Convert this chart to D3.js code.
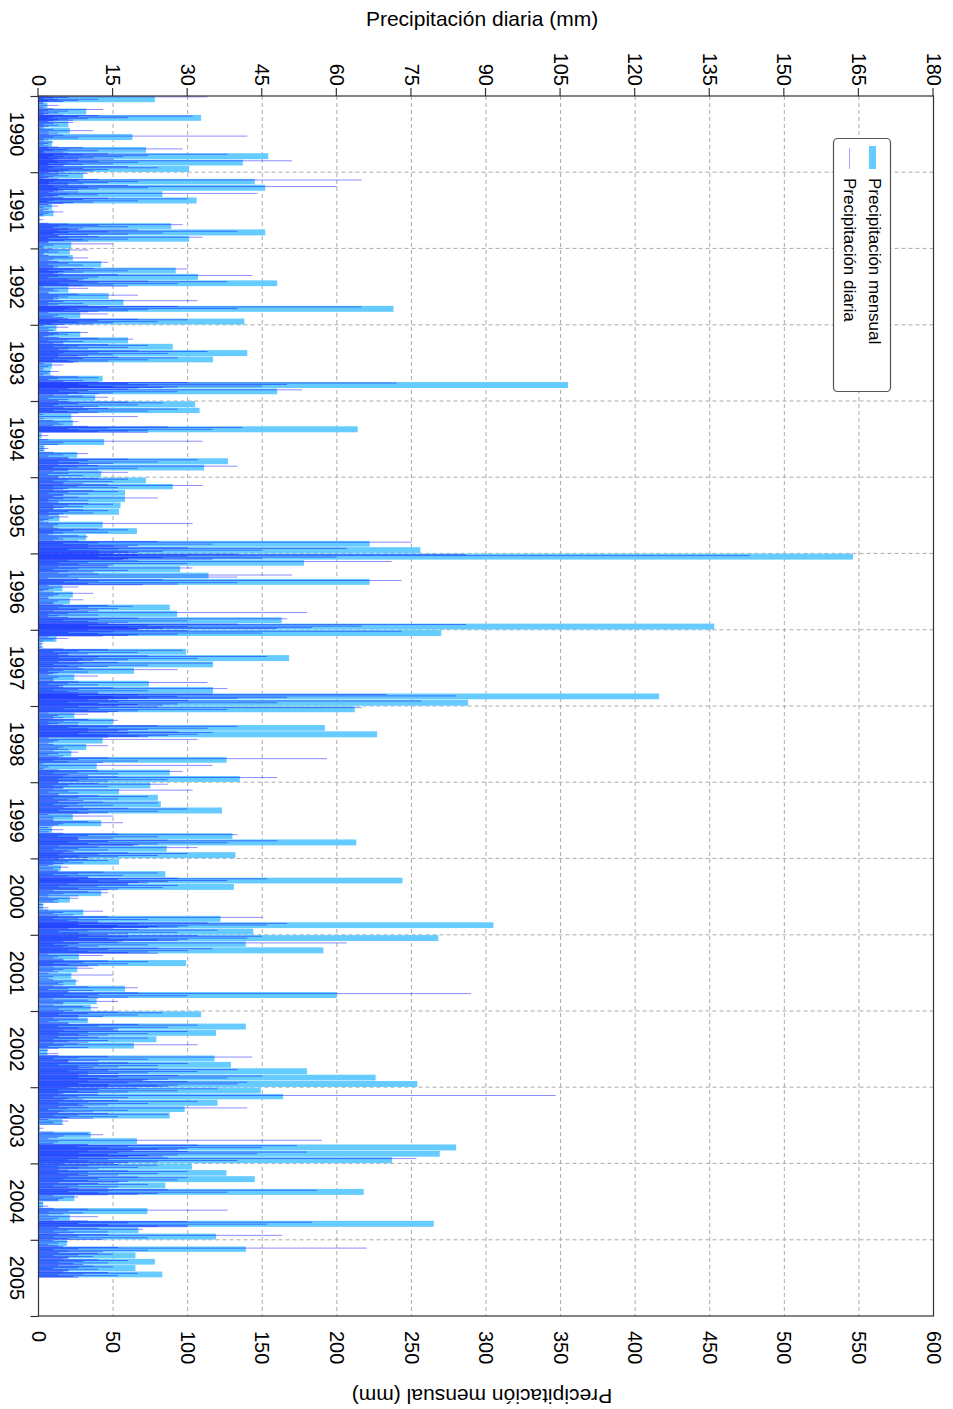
<!DOCTYPE html>
<html>
<head>
<meta charset="utf-8">
<script src="https://cdn.jsdelivr.net/npm/d3@7"></script>
<style>
  body { margin: 0; background: #fff; }
  text { font-family: "Liberation Sans", Arial, sans-serif; fill: #000; }
</style>
</head>
<body>
<script>
// tick labels
const yearLabels = ["1990","1991","1992","1993","1994","1995","1996","1997","1998","1999","2000","2001","2002","2003","2004","2005"];
const dailyTicks = [0,15,30,45,60,75,90,105,120,135,150,165,180];
const monthlyTicks = [0,50,100,150,200,250,300,350,400,450,500,550,600];

// monthly totals (mm), Jan..Dec
const mensual1990 = [78,6,32,109,20,21,63,9,72,154,137,101];
const mensual1991 = [30,145,152,83,106,9,10,1,89,152,101,22];
const mensual1992 = [21,23,42,92,107,160,20,47,57,238,28,138];
const mensual1993 = [12,28,60,90,140,117,9,8,43,355,160,38];
const mensual1994 = [105,108,22,23,214,2,44,4,26,127,111,42];
const mensual1995 = [72,90,58,58,55,54,14,43,66,32,222,256];
const mensual1996 = [546,178,95,114,222,16,23,21,88,93,163,453];
const mensual1997 = [270,12,2,99,168,117,64,24,74,117,416,288];
const mensual1998 = [212,24,50,192,227,43,32,22,126,39,88,135];
const mensual1999 = [75,54,80,82,123,23,42,9,130,213,86,132];
const mensual2000 = [54,15,85,244,131,42,21,3,30,122,305,144];
const mensual2001 = [268,139,191,27,99,26,22,25,58,200,39,35];
const mensual2002 = [109,33,139,119,79,64,6,118,129,180,226,254];
const mensual2003 = [149,164,120,98,88,16,1,35,66,280,269,237];
const mensual2004 = [103,126,145,85,218,24,3,73,21,265,67,119];
const mensual2005 = [19,139,65,78,65,83];

// daily amounts of the rainy days in each month (mm)
const diaria1990 = ["2 34 6 3 1 12 4 8 2 5 1","1 4 1","3 13 2 6 1 4 2 1","5 12 31 8 3 18 2 10 6 4 7 3","2 7 3 1 4 2 1","1 3 11 2 4","2 5 42 3 8 1 2","1 3 2 1 2","4 9 2 29 6 3 12 1 5 1","6 14 38 9 3 22 5 17 2 11 8 4 15","3 8 51 12 4 20 6 2 15 9 5 2","5 18 3 24 9 2 14 6 11 4 5"];
const diaria1991 = ["2 10 4 1 6 3 2 1","4 12 65 8 3 20 2 14 6 9 2","6 18 3 60 10 22 4 12 8 5 4","3 8 2 44 6 12 4 3 1","5 14 30 9 3 20 2 11 7 5","2 4 1 2","1 5 2 1 1","1","2 6 29 12 4 18 3 9 6","8 20 4 40 14 6 25 3 18 10 4","4 12 33 6 2 18 9 5 10 2","2 15 3 1 1"];
const diaria1992 = ["3 10 2 4 1 1","2 6 10 3 2","4 14 6 2 9 3 4","3 11 30 7 2 18 5 9 4 3","5 16 43 4 12 2 10 6 9","8 22 38 12 4 28 6 15 9 18","1 10 3 4 2","2 8 20 4 6 3 4","3 32 5 2 9 4 2","10 28 65 14 6 40 8 22 5 18 12 10","2 14 4 3 5","6 20 30 12 4 24 8 15 3 11 5"];
const diaria1993 = ["1 6 2 3","2 10 4 6 3 2 1","4 12 19 6 2 9 5 3","5 14 22 8 3 18 6 10 4","6 20 34 12 5 26 4 15 10 8","4 16 28 9 3 22 6 14 8 7","1 5 2 1","1 4 2 1","3 8 12 4 2 9 5","12 30 72 18 8 50 22 10 45 15 28 25 20","6 18 53 10 4 28 8 15 12 6","3 9 14 2 6 4"];
const diaria1994 = ["6 18 25 8 4 20 3 12 9","5 14 28 10 3 22 6 12 8","1 20 1","3 8 4 5 3","10 26 41 14 6 35 8 22 18 12 22","2","2 33 5 4","1 2 1","3 10 5 2 6","6 18 32 10 4 24 8 15 10","4 12 40 8 3 20 6 12 6","3 18 6 2 9 4"];
const diaria1995 = ["4 12 18 6 3 15 5 9","5 14 33 8 3 16 6 5","3 11 16 6 2 10 5 5","3 8 24 5 2 10 4 2","4 10 15 6 3 9 5 3","3 9 14 6 2 11 5 4","2 6 3 2 1","2 31 4 3 3","4 12 18 7 3 14 5 3","2 8 10 4 5 3","8 24 75 12 5 35 10 20 15 18","10 30 62 16 6 45 12 25 18 20 12"];
const diaria1996 = ["15 40 86 20 143 30 12 60 25 45 18 35 17","6 20 71 10 4 30 8 15 14","4 14 31 8 3 18 6 11","4 12 51 6 40 2","8 25 73 12 5 40 10 28 21","2 8 3 2 1","3 11 4 3 2","2 9 4 3 3","5 14 19 10 4 16 8 12","3 10 54 6 2 12 4 2","6 20 50 12 5 30 10 18 12","14 40 86 22 10 65 30 18 55 25 48 20 20"];
const diaria1997 = ["10 30 73 15 6 45 12 28 20 18 13","2 6 3 1","1 1","5 14 29 8 3 20 6 10 4","6 22 46 12 4 32 9 18 11 8","4 16 35 9 3 22 6 14 8","3 9 28 5 2 10 4 3","2 12 4 3 3","3 8 34 6 2 12 5 4","5 15 38 8 3 22 6 12 8","12 35 70 20 8 84 28 15 50 22 40 18 14","10 30 77 16 6 48 12 28 20 25 16"];
const diaria1998 = ["8 24 65 12 5 38 10 20 16 14","2 10 4 3 5","3 10 16 5 2 8 4 2","8 24 40 14 6 34 10 22 18 16","10 28 35 18 8 32 14 26 20 22 14","2 32 4 3 2","3 14 5 4 6","3 8 4 2 5","4 14 58 8 3 20 6 13","1 35 2 1","4 12 29 8 3 16 6 10","5 16 48 10 4 26 8 14 4"];
const diaria1999 = ["4 12 26 6 3 14 5 5","3 31 6 2 8 4","4 12 22 8 3 16 6 9","4 13 24 8 3 15 6 9","5 18 30 10 4 24 8 14 10","2 15 3 3","3 10 17 5 4 3","2 5 2","5 16 40 10 4 24 8 15 8","8 26 48 14 6 38 10 24 20 19","4 12 32 8 3 14 6 7","5 18 30 12 4 24 8 16 10 5"];
const diaria2000 = ["4 10 14 6 3 9 5 3","2 6 3 4","4 13 24 8 3 17 6 10","10 28 46 16 8 38 12 26 20 22 18","6 18 28 12 4 25 8 16 14","3 10 14 5 2 8","2 8 4 3 4","1 2","2 13 5 3 7","4 14 45 8 3 22 6 12 8","12 34 50 20 8 46 16 30 24 28 22 15","6 20 36 10 4 28 8 18 14"];
const diaria2001 = ["10 32 45 18 8 42 14 30 24 28 17","5 16 62 8 3 22 6 12 5","8 24 35 14 6 30 10 22 18 24","2 13 4 3 5","5 14 22 9 3 18 6 12 10","3 11 5 3 4","2 15 3 2","3 8 5 4 5","3 10 20 6 2 11 6","6 20 87 12 5 30 10 18 12","3 10 16 5 5","3 9 12 4 7"];
const diaria2002 = ["5 16 25 10 4 20 8 13 8","3 8 10 4 2 6","6 20 32 12 4 26 8 16 15","5 16 30 10 4 22 8 14 10","4 12 22 8 3 14 6 10","3 8 32 5 2 10 4","2 4","4 14 43 8 3 22 6 12 6","6 18 30 12 4 24 8 16 11","8 24 40 14 6 32 10 22 16 8","10 28 45 16 8 38 12 26 22 21","10 30 42 18 8 40 14 28 24 26 14"];
const diaria2003 = ["6 20 36 12 4 28 8 18 12 5","4 12 104 8 3 18 6 9","5 16 32 10 4 22 8 14 9","4 10 42 6 2 18 5 11","4 14 26 8 3 16 6 11","2 6 3 5","1","3 10 13 5 4","2 57 4 3","10 32 52 18 8 45 14 30 24 28 19","10 30 54 16 8 44 14 28 22 25 18","8 26 76 14 6 40 10 24 18 15"];
const diaria2004 = ["5 16 24 10 4 20 8 12 4","6 18 30 10 4 24 8 16 10","6 20 30 12 5 28 10 18 16","4 12 22 8 3 16 6 14","8 26 56 14 6 38 12 24 20 14","3 8 5 4 4","1 2","3 10 38 6 2 9 5","2 12 4 3","10 30 55 18 8 46 14 30 24 30","4 12 21 6 3 14 7","4 14 49 8 3 22 6 13"];
const diaria2005 = ["3 6 4 2 4","5 16 66 8 3 22 6 13","4 12 15 8 3 11 6 6","5 12 18 9 4 14 7 9","4 11 15 8 3 12 6 6","5 14 20 9 4 16 7 8"];

const mensualPorAnio = [mensual1990,mensual1991,mensual1992,mensual1993,mensual1994,mensual1995,mensual1996,mensual1997,mensual1998,mensual1999,mensual2000,mensual2001,mensual2002,mensual2003,mensual2004,mensual2005];
const diariaPorAnio = [diaria1990,diaria1991,diaria1992,diaria1993,diaria1994,diaria1995,diaria1996,diaria1997,diaria1998,diaria1999,diaria2000,diaria2001,diaria2002,diaria2003,diaria2004,diaria2005];

// chart is drawn in landscape and turned a quarter clockwise
const W = 1409, H = 953;
const pL = 96, pR = 1316, pT = 19.5, pB = 914.5;

const svg = d3.select("body").append("svg")
    .attr("width", H)
    .attr("height", W);

const g = svg.append("g")
    .attr("transform", `translate(${H},0) rotate(90)`);

const x = d3.scaleUtc()
    .domain([new Date(Date.UTC(1990,0,1)), new Date(Date.UTC(2006,0,1))])
    .range([pL, pR]);
const yD = d3.scaleLinear().domain([0,180]).range([pB, pT]);
const yM = d3.scaleLinear().domain([0,600]).range([pB, pT]);

// months
let months = [];
mensualPorAnio.forEach((vals, yi) => {
  vals.forEach((v, m) => {
    months.push({
      start: new Date(Date.UTC(1990 + yi, m, 1)),
      end: new Date(Date.UTC(1990 + yi, m + 1, 1)),
      total: v,
      days: diariaPorAnio[yi][m].split(" ").map(Number)
    });
  });
});

// grid
const grid = g.append("g")
    .attr("stroke", "#aaa")
    .attr("stroke-width", 1)
    .attr("stroke-dasharray", "4,3");
grid.selectAll(".gh")
  .data(dailyTicks.slice(1, -1))
  .join("line")
    .attr("x1", pL).attr("x2", pR)
    .attr("y1", d => yD(d)).attr("y2", d => yD(d));
grid.selectAll(".gv")
  .data(yearLabels.slice(1))
  .join("line")
    .attr("x1", d => x(new Date(Date.UTC(+d,0,1))))
    .attr("x2", d => x(new Date(Date.UTC(+d,0,1))))
    .attr("y1", pT).attr("y2", pB);

// monthly bars
g.append("g").selectAll("rect")
  .data(months)
  .join("rect")
    .attr("x", d => x(d.start) + 0.25)
    .attr("width", d => x(d.end) - x(d.start) - 0.5)
    .attr("y", d => yM(d.total))
    .attr("height", d => pB - yM(d.total))
    .attr("fill", "#66ccff");

// daily lines
let dias = [];
months.forEach(mo => {
  const n = mo.days.length;
  mo.days.forEach((v, i) => {
    const t = new Date(+mo.start + (i + 0.5) / n * (mo.end - mo.start));
    dias.push({ t: t, v: v });
  });
});
g.append("g")
    .attr("stroke", "#0000ff")
    .attr("stroke-opacity", 0.45)
    .attr("stroke-width", 1)
  .selectAll("line")
  .data(dias)
  .join("line")
    .attr("x1", d => x(d.t)).attr("x2", d => x(d.t))
    .attr("y1", pB).attr("y2", d => yD(d.v));

// frame
g.append("rect")
    .attr("x", pL).attr("y", pT)
    .attr("width", pR - pL).attr("height", pB - pT)
    .attr("fill", "none")
    .attr("stroke", "#333")
    .attr("stroke-width", 1.2);

// axes
const axD = g.append("g")
    .attr("transform", `translate(${pL},0)`)
    .call(d3.axisLeft(yD).tickValues(dailyTicks).tickSize(8).tickPadding(2));
const axM = g.append("g")
    .attr("transform", `translate(${pR},0)`)
    .call(d3.axisRight(yM).tickValues(monthlyTicks).tickSize(0).tickPadding(15));
const axT = g.append("g")
    .attr("transform", `translate(0,${pB})`)
    .call(d3.axisBottom(x)
      .tickValues(yearLabels.map(d => new Date(Date.UTC(+d,0,1))).concat([new Date(Date.UTC(2006,0,1))]))
      .tickSize(8).tickFormat(""));
[axD, axM, axT].forEach(a => {
  a.select(".domain").remove();
  a.selectAll(".tick line").attr("stroke", "#333").attr("stroke-width", 1.2);
  a.selectAll("text")
    .attr("font-family", '"Liberation Sans", Arial, sans-serif')
    .attr("font-size", 20)
    .attr("fill", "#000");
});

g.append("g").selectAll("text")
  .data(yearLabels)
  .join("text")
    .attr("x", d => (x(new Date(Date.UTC(+d,0,1))) + x(new Date(Date.UTC(+d + 1,0,1)))) / 2)
    .attr("y", 943)
    .attr("text-anchor", "middle")
    .attr("font-size", 20)
    .text(d => d);

// axis titles
g.append("text")
    .attr("transform", "translate(26,471) rotate(-90)")
    .attr("text-anchor", "middle")
    .attr("font-size", 21)
    .text("Precipitación diaria (mm)");
g.append("text")
    .attr("transform", "translate(1389,471) rotate(90)")
    .attr("text-anchor", "middle")
    .attr("font-size", 21)
    .text("Precipitación mensual (mm)");

// legend
const lg = g.append("g");
lg.append("rect")
    .attr("x", 138.5).attr("y", 62.5)
    .attr("width", 253).attr("height", 57)
    .attr("rx", 4)
    .attr("fill", "#fff")
    .attr("stroke", "#555")
    .attr("stroke-width", 1.2);
lg.append("rect")
    .attr("x", 146).attr("y", 77)
    .attr("width", 23).attr("height", 7)
    .attr("fill", "#66ccff");
lg.append("line")
    .attr("x1", 148).attr("x2", 169)
    .attr("y1", 103.5).attr("y2", 103.5)
    .attr("stroke", "#0000ff")
    .attr("stroke-opacity", 0.35);
lg.append("text")
    .attr("x", 178).attr("y", 84)
    .attr("font-size", 17)
    .text("Precipitación mensual");
lg.append("text")
    .attr("x", 178).attr("y", 109)
    .attr("font-size", 17)
    .text("Precipitación diaria");
</script>
</body>
</html>
